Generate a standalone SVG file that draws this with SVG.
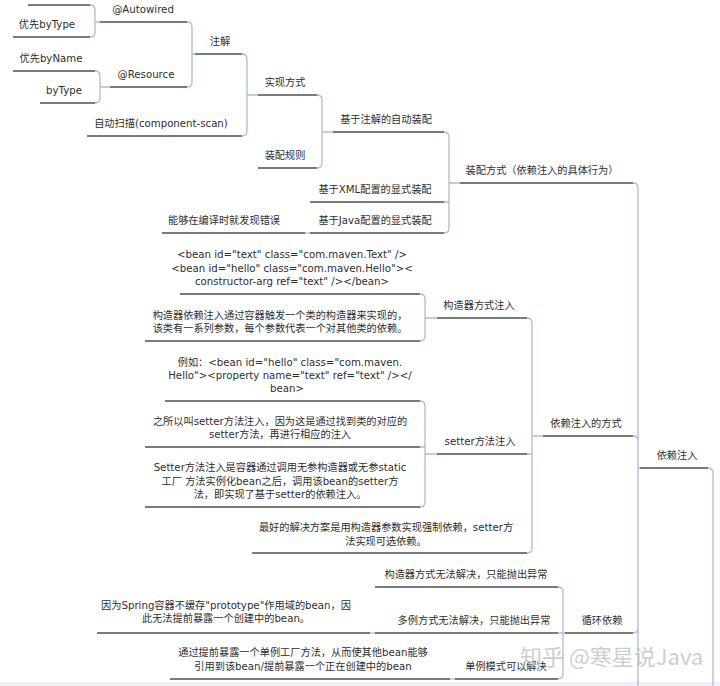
<svg xmlns="http://www.w3.org/2000/svg" width="720" height="686" viewBox="0 0 720 686">
<style>
text{font-family:"DejaVu Sans","Noto Sans CJK SC",sans-serif;font-size:10.2px;fill:#2e2e2e;text-anchor:middle}
.u{stroke:#4f4f4f;stroke-width:1.5;fill:none}
.b{stroke:#a6bedb;stroke-width:1.3;fill:none}
.wm{font-family:"Noto Sans CJK SC",sans-serif;font-size:22px;fill:#b9bdc2;fill-opacity:0.75;text-anchor:start}
</style>
<rect width="720" height="686" fill="#ffffff"/>
<rect x="0" y="682" width="720" height="4" fill="#eef0f3"/>
<g id="connectors">
<path class="b" d="M90 5 Q95 5 95 10 V32 Q95 37 90 37 M95 22 H100"/>
<path class="b" d="M95 71 Q100 71 100 76 V98 Q100 103 95 103 M100 87 H110"/>
<path class="b" d="M187 22 Q192 22 192 27 V82 Q192 87 187 87 M192 54 H195"/>
<path class="b" d="M242 54 Q247 54 247 59 V131 Q247 136 242 136 M247 95 H258"/>
<path class="b" d="M317 95 Q322 95 322 100 V163 Q322 168 317 168 M322 132 H333"/>
<path class="b" d="M444 132 Q449 132 449 137 V228 Q449 233 444 233 M444 202 H449 M449 183 H460"/>
<path class="b" d="M305 233 H310"/>
<path class="b" d="M633 183 Q638 183 638 188 V686 M633 436 Q638 436 638 441 M633 633 Q638 633 638 628 M638 468 H640"/>
<path class="b" d="M708 468 Q713 468 713 473 V686"/>
<path class="b" d="M527 318 Q532 318 532 323 V548 Q532 553 527 553 M527 454 H532 M532 436 H543"/>
<path class="b" d="M420 294 Q425 294 425 299 V336 Q425 341 420 341 M425 318 H437"/>
<path class="b" d="M420 401 Q425 401 425 406 V502 Q425 507 420 507 M420 447 H425 M425 454 H437"/>
<path class="b" d="M558 587 Q563 587 563 592 V674 Q563 679 558 679 M558 633 H565"/>
<path class="b" d="M370 633 H375"/>
<path class="b" d="M450 679 H455"/>
</g>
<g id="n-top"><line class="u" x1="28" y1="5" x2="90" y2="5"/></g>
<g id="n-youxian-bytype"><text x="47" y="28">优先byType</text><line class="u" x1="13" y1="37" x2="90" y2="37"/></g>
<g id="n-autowired"><text x="143" y="13">@Autowired</text><line class="u" x1="100" y1="22" x2="187" y2="22"/></g>
<g id="n-youxian-byname"><text x="51" y="62">优先byName</text><line class="u" x1="13" y1="71" x2="95" y2="71"/></g>
<g id="n-bytype"><text x="64" y="94">byType</text><line class="u" x1="40" y1="103" x2="95" y2="103"/></g>
<g id="n-resource"><text x="146" y="78">@Resource</text><line class="u" x1="110" y1="87" x2="187" y2="87"/></g>
<g id="n-zhujie"><text x="220" y="45">注解</text><line class="u" x1="195" y1="54" x2="242" y2="54"/></g>
<g id="n-scan"><text x="161" y="127">自动扫描(component-scan)</text><line class="u" x1="87" y1="136" x2="242" y2="136"/></g>
<g id="n-shixian"><text x="285" y="86">实现方式</text><line class="u" x1="258" y1="95" x2="317" y2="95"/></g>
<g id="n-guize"><text x="285" y="159">装配规则</text><line class="u" x1="258" y1="168" x2="317" y2="168"/></g>
<g id="n-auto"><text x="386" y="123">基于注解的自动装配</text><line class="u" x1="333" y1="132" x2="444" y2="132"/></g>
<g id="n-xml"><text x="375" y="193">基于XML配置的显式装配</text><line class="u" x1="310" y1="202" x2="444" y2="202"/></g>
<g id="n-compile"><text x="224" y="224">能够在编译时就发现错误</text><line class="u" x1="162" y1="233" x2="305" y2="233"/></g>
<g id="n-java"><text x="375" y="224">基于Java配置的显式装配</text><line class="u" x1="310" y1="233" x2="444" y2="233"/></g>
<g id="n-zhuangpei"><text x="542" y="174">装配方式（依赖注入的具体行为）</text><line class="u" x1="460" y1="183" x2="633" y2="183"/></g>
<g id="n-beanxml"><text x="292" y="258">&lt;bean id="text" class="com.maven.Text" /&gt;</text><text x="292" y="272">&lt;bean id="hello" class="com.maven.Hello"&gt;&lt;</text><text x="292" y="285">constructor-arg ref="text" /&gt;&lt;/bean&gt;</text><line class="u" x1="180" y1="294" x2="420" y2="294"/></g>
<g id="n-ctor-desc"><text x="280" y="318.5">构造器依赖注入通过容器触发一个类的构造器来实现的，</text><text x="280" y="332">该类有一系列参数，每个参数代表一个对其他类的依赖。</text><line class="u" x1="145" y1="341" x2="420" y2="341"/></g>
<g id="n-ctor"><text x="479" y="309">构造器方式注入</text><line class="u" x1="437" y1="318" x2="527" y2="318"/></g>
<g id="n-example"><text x="290" y="365.5">例如：&lt;bean id="hello" class="com.maven.</text><text x="290" y="378.5">Hello"&gt;&lt;property name="text" ref="text" /&gt;&lt;/</text><text x="287" y="391.5">bean&gt;</text><line class="u" x1="165" y1="401" x2="420" y2="401"/></g>
<g id="n-why-setter"><text x="280" y="424.5">之所以叫setter方法注入，因为这是通过找到类的对应的</text><text x="280" y="437.5">setter方法，再进行相应的注入</text><line class="u" x1="145" y1="447" x2="420" y2="447"/></g>
<g id="n-setter-desc"><text x="280" y="470.5">Setter方法注入是容器通过调用无参构造器或无参static</text><text x="280" y="484.5">工厂 方法实例化bean之后，调用该bean的setter方</text><text x="280" y="497.5">法，即实现了基于setter的依赖注入。</text><line class="u" x1="145" y1="507" x2="420" y2="507"/></g>
<g id="n-setter"><text x="480" y="445">setter方法注入</text><line class="u" x1="437" y1="454" x2="527" y2="454"/></g>
<g id="n-best"><text x="386" y="531">最好的解决方案是用构造器参数实现强制依赖，setter方</text><text x="386" y="545">法实现可选依赖。</text><line class="u" x1="252" y1="553" x2="527" y2="553"/></g>
<g id="n-di-way"><text x="586" y="427">依赖注入的方式</text><line class="u" x1="543" y1="436" x2="633" y2="436"/></g>
<g id="n-di"><text x="677" y="459">依赖注入</text><line class="u" x1="640" y1="468" x2="708" y2="468"/></g>
<g id="n-ctor-fail"><text x="466" y="578">构造器方式无法解决，只能抛出异常</text><line class="u" x1="375" y1="587" x2="558" y2="587"/></g>
<g id="n-proto-reason"><text x="226" y="608.5">因为Spring容器不缓存"prototype"作用域的bean，因</text><text x="226" y="621.5">此无法提前暴露一个创建中的bean。</text><line class="u" x1="97" y1="633" x2="370" y2="633"/></g>
<g id="n-proto"><text x="474" y="624">多例方式无法解决，只能抛出异常</text><line class="u" x1="375" y1="633" x2="558" y2="633"/></g>
<g id="n-cycle"><text x="602" y="624">循环依赖</text><line class="u" x1="565" y1="633" x2="633" y2="633"/></g>
<g id="n-early"><text x="303" y="655.5">通过提前暴露一个单例工厂方法，从而使其他bean能够</text><text x="303" y="670">引用到该bean/提前暴露一个正在创建中的bean</text><line class="u" x1="170" y1="679" x2="450" y2="679"/></g>
<g id="n-singleton"><text x="506" y="670">单例模式可以解决</text><line class="u" x1="455" y1="679" x2="558" y2="679"/></g>
<text class="wm" x="520" y="665">知乎 @寒星说Java</text>
</svg>
